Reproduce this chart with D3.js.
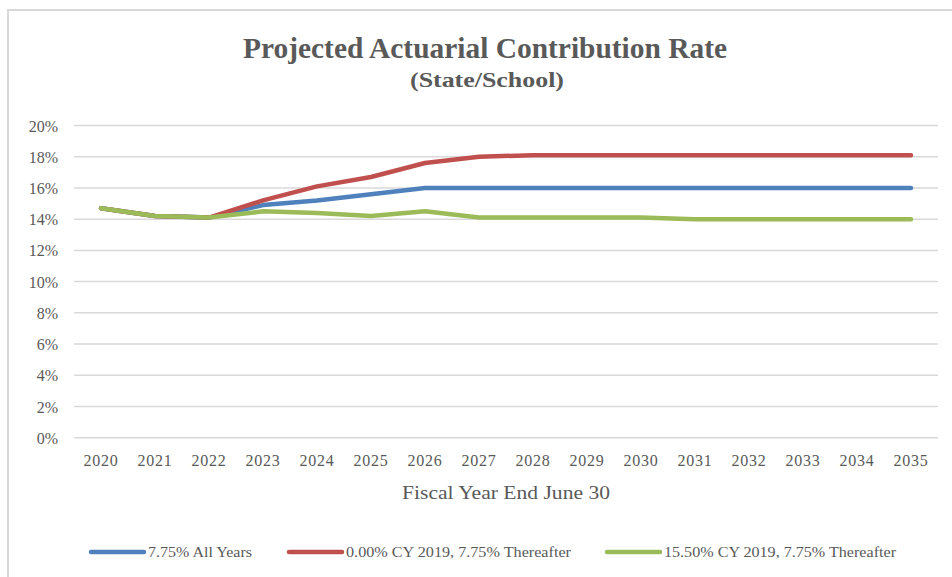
<!DOCTYPE html>
<html>
<head>
<meta charset="utf-8">
<script src="https://cdn.jsdelivr.net/npm/d3@7"></script>
<style>
  html, body { margin: 0; padding: 0; background: #fff; }
  svg { display: block; }
  text { font-family: "Liberation Serif", "Times New Roman", serif; fill: #595959; }
</style>
</head>
<body>
<svg id="chart" width="952" height="577"></svg>
<script>
const years = ["2020","2021","2022","2023","2024","2025","2026","2027","2028","2029","2030","2031","2032","2033","2034","2035"];
const allYears = [14.7,14.2,14.1,14.9,15.2,15.6,16.0,16.0,16.0,16.0,16.0,16.0,16.0,16.0,16.0,16.0];
const zeroCY = [14.7,14.2,14.1,15.2,16.1,16.7,17.6,18.0,18.1,18.1,18.1,18.1,18.1,18.1,18.1,18.1];
const highCY = [14.7,14.2,14.1,14.5,14.4,14.2,14.5,14.1,14.1,14.1,14.1,14.0,14.0,14.0,14.0,14.0];
const seriesNames = ["7.75% All Years","0.00% CY 2019, 7.75% Thereafter","15.50% CY 2019, 7.75% Thereafter"];
const yTicks = [0,2,4,6,8,10,12,14,16,18,20];

const series = [
  {name: seriesNames[0], values: allYears, color: "#4F81BD"},
  {name: seriesNames[1], values: zeroCY, color: "#C0504D"},
  {name: seriesNames[2], values: highCY, color: "#9BBB59"}
];

const svg = d3.select("#chart");
// chart frame
svg.append("rect").attr("x", 8).attr("y", 10).attr("width", 960).attr("height", 600)
  .attr("fill", "none").attr("stroke", "#d9d9d9").attr("stroke-width", 2);

const pLeft = 74, pRight = 938, pTop = 125.5, pBottom = 437.7;
const x = d3.scaleBand().domain(years).range([pLeft, pRight]);
const y = d3.scaleLinear().domain([0, 20]).range([pBottom, pTop]);

// gridlines
svg.append("g").selectAll("line").data(yTicks).join("line")
  .attr("x1", pLeft).attr("x2", pRight)
  .attr("y1", d => y(d)).attr("y2", d => y(d))
  .attr("stroke", "#d9d9d9").attr("stroke-width", 1.5);

// y axis
const yAxis = svg.append("g").attr("transform", `translate(${pLeft},0)`)
  .call(d3.axisLeft(y).tickValues(yTicks).tickFormat(d => d + "%").tickSize(0).tickPadding(16));
yAxis.select(".domain").remove();
yAxis.selectAll("text").attr("font-size", 16).attr("fill", "#595959")
  .attr("font-family", "Liberation Serif").attr("dy", "0.35em");

// x axis
const xAxis = svg.append("g").attr("transform", `translate(0,${pBottom})`)
  .call(d3.axisBottom(x).tickSize(0).tickPadding(17));
xAxis.select(".domain").remove();
xAxis.selectAll("text").attr("font-size", 16).attr("fill", "#595959")
  .attr("font-family", "Liberation Serif").attr("letter-spacing", "0.8px");

// lines
const line = d3.line().x((d, i) => x(years[i]) + x.bandwidth() / 2).y(d => y(d));
series.forEach(s => {
  svg.append("path").datum(s.values).attr("d", line)
    .attr("fill", "none").attr("stroke", s.color).attr("stroke-width", 4.5)
    .attr("stroke-linejoin", "round").attr("stroke-linecap", "round");
});

// titles
svg.append("text").attr("x", 485).attr("y", 58).attr("text-anchor", "middle")
  .attr("font-size", 29).attr("font-weight", "bold")
  .attr("textLength", 484).attr("lengthAdjust", "spacingAndGlyphs")
  .text("Projected Actuarial Contribution Rate");
svg.append("text").attr("x", 487).attr("y", 87).attr("text-anchor", "middle")
  .attr("font-size", 22).attr("font-weight", "bold")
  .attr("textLength", 154).attr("lengthAdjust", "spacingAndGlyphs")
  .text("(State/School)");
svg.append("text").attr("x", 506).attr("y", 499).attr("text-anchor", "middle")
  .attr("font-size", 19)
  .attr("textLength", 208).attr("lengthAdjust", "spacingAndGlyphs")
  .text("Fiscal Year End June 30");

// legend
const legendX = [91, 289, 607];
const legendTextW = [104, 225, 232];
const lg = svg.append("g");
series.forEach((s, i) => {
  lg.append("line").attr("x1", legendX[i]).attr("x2", legendX[i] + 53)
    .attr("y1", 552).attr("y2", 552)
    .attr("stroke", s.color).attr("stroke-width", 4.5).attr("stroke-linecap", "round");
  lg.append("text").attr("x", legendX[i] + 57).attr("y", 557)
    .attr("font-size", 15)
    .attr("textLength", legendTextW[i]).attr("lengthAdjust", "spacingAndGlyphs")
    .text(s.name);
});
</script>
</body>
</html>
